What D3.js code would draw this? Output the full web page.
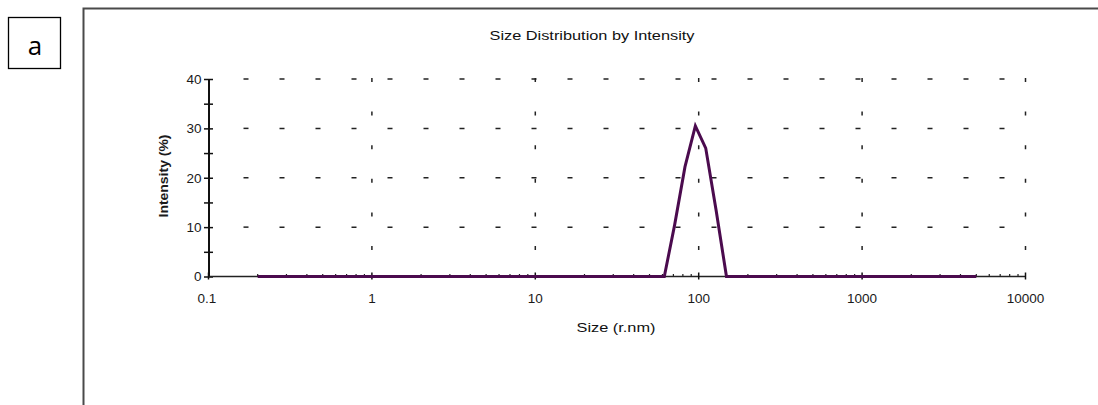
<!DOCTYPE html>
<html>
<head>
<meta charset="utf-8">
<script src="https://cdn.jsdelivr.net/npm/d3@7"></script>
<style>
    html, body { margin: 0; padding: 0; background: #fff; }
    svg { display: block; font-family: "Liberation Sans", Arial, sans-serif; }
</style>
</head>
<body>
<div id="area-chart"></div>
<script>
// size bins (r.nm) and intensity (%)
const sizes = [0.2, 61.6, 71.2, 82.4, 95.4, 110.4, 127.8, 147.9, 5000];
const intensity = [0, 0, 10.4, 22.2, 30.5, 26, 13.4, 0, 0];

const xTicks = [0.1, 1, 10, 100, 1000, 10000];
const xTickLabels = ['0.1', '1', '10', '100', '1000', '10000'];
const yTicks = [0, 10, 20, 30, 40];
const yMinorTicks = [0, 5, 10, 15, 20, 25, 30, 35, 40];

const W = 1098, H = 405;

const svg = d3.select('#area-chart')
    .append('svg')
    .attr('width', W)
    .attr('height', H);

// outer frame (only left and top visible)
svg.append('path')
    .attr('d', `M83.5,${H} L83.5,8.5 L${W},8.5`)
    .attr('fill', 'none')
    .attr('stroke', '#4a4a4a')
    .attr('stroke-width', 2);

// panel letter box
svg.append('rect')
    .attr('x', 8.5).attr('y', 17.5)
    .attr('width', 52).attr('height', 51)
    .attr('fill', 'none')
    .attr('stroke', '#000')
    .attr('stroke-width', 1.3);

svg.append('text')
    .attr('x', 35).attr('y', 55)
    .attr('text-anchor', 'middle')
    .attr('font-size', 26)
    .attr('font-family', '"Open Sans", "Liberation Sans", sans-serif')
    .text('a');

const x = d3.scaleLog()
    .domain([0.1, 10000])
    .range([208.5, 1025.5]);

const y = d3.scaleLinear()
    .domain([0, 40])
    .range([276.5, 79]);

// grid - horizontal dashes
svg.append('g')
    .selectAll('line')
    .data(yTicks.filter(d => d > 0))
    .join('line')
    .attr('x1', x(0.1) + 35)
    .attr('x2', x(10000))
    .attr('y1', d => y(d))
    .attr('y2', d => y(d))
    .attr('stroke', '#222')
    .attr('stroke-width', 1.5)
    .attr('stroke-dasharray', '5,31');

// grid - vertical dashes
svg.append('g')
    .selectAll('line')
    .data(xTicks.filter(d => d > 0.1))
    .join('line')
    .attr('x1', d => x(d))
    .attr('x2', d => x(d))
    .attr('y1', y(40) - 1)
    .attr('y2', y(0))
    .attr('stroke', '#222')
    .attr('stroke-width', 1.5)
    .attr('stroke-dasharray', '4,29.6');

// y axis
const yAxis = svg.append('g')
    .attr('transform', `translate(${x(0.1)},0)`)
    .call(d3.axisLeft(y).tickValues(yMinorTicks).tickSize(0).tickPadding(7)
        .tickFormat(d => yTicks.includes(d) ? d : ''));

yAxis.select('.domain')
    .attr('stroke', '#111')
    .attr('stroke-width', 2);

yAxis.selectAll('.tick line')
    .attr('x1', -4.5)
    .attr('x2', 4.5)
    .attr('stroke', '#111')
    .attr('stroke-width', 1.5);

yAxis.selectAll('text')
    .attr('font-size', 13.5)
    .attr('font-family', '"Liberation Sans", Arial, sans-serif')
    .attr('fill', '#1a1a1a');

// x axis
const minor = [];
xTicks.slice(0, -1).forEach(t => {
    for (let k = 2; k < 10; k++) minor.push(t * k);
});

svg.append('line')
    .attr('x1', x(0.1)).attr('x2', x(10000))
    .attr('y1', y(0)).attr('y2', y(0))
    .attr('stroke', '#222')
    .attr('stroke-width', 1.3);

svg.append('g')
    .selectAll('line')
    .data(minor)
    .join('line')
    .attr('x1', d => x(d)).attr('x2', d => x(d))
    .attr('y1', y(0) - 2.5).attr('y2', y(0))
    .attr('stroke', '#222')
    .attr('stroke-width', 1.2);

svg.append('g')
    .selectAll('line')
    .data(xTicks)
    .join('line')
    .attr('x1', d => x(d)).attr('x2', d => x(d))
    .attr('y1', y(0) - 4).attr('y2', y(0) + 3)
    .attr('stroke', '#111')
    .attr('stroke-width', 1.5);

svg.append('g')
    .selectAll('text')
    .data(xTicks)
    .join('text')
    .attr('x', (d, i) => x(d) - (i === 0 ? 1.5 : 0))
    .attr('y', 303)
    .attr('text-anchor', 'middle')
    .attr('font-size', 13.5)
    .attr('fill', '#1a1a1a')
    .text((d, i) => xTickLabels[i]);

// data line
const line = d3.line()
    .x((d, i) => x(sizes[i]))
    .y(d => y(d));

svg.append('path')
    .datum(intensity)
    .attr('d', line)
    .attr('fill', 'none')
    .attr('stroke', '#4b0b4e')
    .attr('stroke-width', 3)
    .attr('stroke-linejoin', 'miter');

// titles
svg.append('text')
    .attr('x', 592).attr('y', 40)
    .attr('text-anchor', 'middle')
    .attr('font-size', 13)
    .attr('fill', '#111')
    .attr('textLength', 205)
    .attr('lengthAdjust', 'spacingAndGlyphs')
    .text('Size Distribution by Intensity');

svg.append('text')
    .attr('x', 616).attr('y', 332)
    .attr('text-anchor', 'middle')
    .attr('font-size', 13)
    .attr('fill', '#111')
    .attr('textLength', 79)
    .attr('lengthAdjust', 'spacingAndGlyphs')
    .text('Size (r.nm)');

svg.append('text')
    .attr('transform', 'translate(168,176) rotate(-90)')
    .attr('text-anchor', 'middle')
    .attr('font-size', 12.5)
    .attr('font-weight', 'bold')
    .attr('fill', '#1a1a1a')
    .attr('textLength', 83)
    .attr('lengthAdjust', 'spacingAndGlyphs')
    .text('Intensity (%)');
</script>
</body>
</html>
